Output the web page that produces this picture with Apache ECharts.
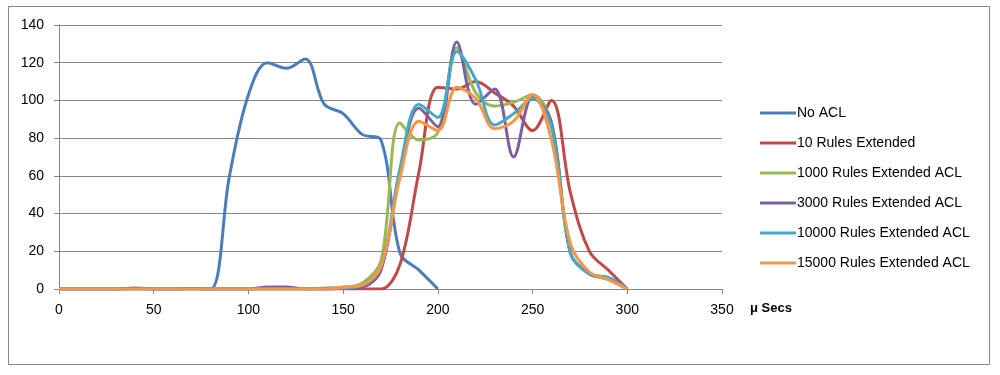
<!DOCTYPE html>
<html><head><meta charset="utf-8">
<script src="https://cdn.jsdelivr.net/npm/echarts@6/dist/echarts.min.js"></script>
<style>html,body{margin:0;padding:0;background:#fff}#c{width:1000px;height:375px}</style>
</head><body><div id="c"></div>
<script>
const xValues = [0,10,20,30,40,50,60,70,80,90,100,110,120,130,140,150,160,170,180,190,200,210,220,230,240,250,260,270,280,290,300];
const seriesNames = ["No ACL","10 Rules Extended","1000 Rules Extended ACL","3000 Rules Extended ACL","10000 Rules Extended ACL","15000 Rules Extended ACL"];
const noAcl   = [0,0,0,0,0.3,0,0,0.2,0,60,103,120,117,122,98,93,82,79,19,10,0];
const rules10 = [0,0,0,0,0,0,0,0,0,0,0,0,0,0,0,0,0,0,13,62,107,106,110,104,97,84,100,51,20,10,0];
const rules1000 = [0,0,0,0,0,0,0,0,0,0,0,0,0,0,0.5,1,3,15,88,79,83,128,104,97,99,103,88,19,8,5,0];
const rules3000 = [0,0,0,0,0.5,0,0,0.3,0,0,0,1,1,0,0,0.5,1,10,62,96,86,131,98,106,70,102,88,19,8,6,0];
const rules10000 = [0,0,0,0,0,0,0,0,0,0,0,0,0,0,0,0.5,2,12,64,98,91,126,111,87,93,101,86,19,8,6,0];
const rules15000 = [0,0,0,0,0,0,0,0,0,0,0,0,0,0,0,1,2,12,59,89,84,107,101,85,89,103,79,24,9,5,0];
const colors = ["#4A7EBB","#BE4B48","#98B954","#7D60A0","#46AAC5","#F79646"];
const xTicks = [0,50,100,150,200,250,300,350];
const yTicks = [0,20,40,60,80,100,120,140];
const allData = [noAcl, rules10, rules1000, rules3000, rules10000, rules15000];

const chart = echarts.init(document.getElementById('c'), null, {renderer:'canvas'});
const font = 'Liberation Sans';
chart.setOption({
  animation:false,
  backgroundColor:'#fff',
  color: colors,
  grid:{left:59, right:278, top:25, bottom:86},
  legend:{
    orient:'vertical', left:755, top:101, itemGap:16,
    itemWidth:36, itemHeight:3,
    icon:'rect',
    textStyle:{fontFamily:font, fontSize:14, color:'#000', padding:[0,0,0,-4]},
    data: seriesNames
  },
  xAxis:{
    type:'value', min:0, max:350, interval:50,
    axisLine:{lineStyle:{color:'#868686', width:1}},
    axisTick:{show:true, length:5, inside:false, lineStyle:{color:'#868686'}},
    splitLine:{show:false},
    axisLabel:{fontFamily:font, fontSize:14, color:'#000', margin:14,
      formatter: v => xTicks.includes(v) ? String(v) : ''}
  },
  yAxis:{
    type:'value', min:0, max:140, interval:20,
    axisLine:{show:true, lineStyle:{color:'#868686', width:1}},
    axisTick:{show:true, length:5, lineStyle:{color:'#868686'}},
    splitLine:{show:true, lineStyle:{color:'#868686', width:1}},
    axisLabel:{fontFamily:font, fontSize:14, color:'#000', margin:15,
      formatter: v => yTicks.includes(v) ? String(v) : ''}
  },
  graphic:[
    {type:'rect', shape:{x:8.5, y:6.5, width:981, height:358}, style:{fill:'none', stroke:'#868686', lineWidth:1}, silent:true, z:-1},
    {type:'text', left:750, top:302, style:{text:'\u03bc Secs', font:'bold 13px "Liberation Sans"', fill:'#000'}}
  ],
  series: allData.map((d,i)=>({
    name: seriesNames[i], type:'line', smooth:0.35, showSymbol:false, symbol:'none',
    lineStyle:{width:3, color:colors[i]},
    data: d.map((v,j)=>[xValues[j], v])
  }))
});
</script></body></html>
